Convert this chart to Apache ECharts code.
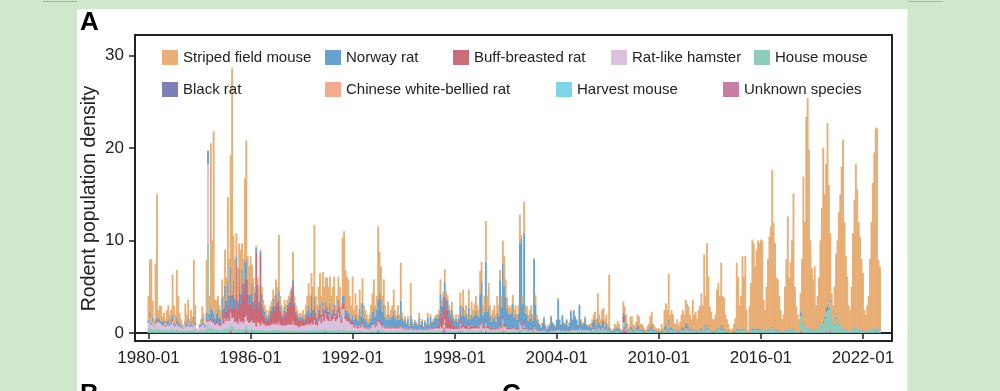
<!DOCTYPE html>
<html><head><meta charset="utf-8">
<script src="https://cdn.jsdelivr.net/npm/echarts@6/dist/echarts.min.js"></script>
<style>html,body{margin:0;padding:0;background:#cfe8cc;}#c{width:1000px;height:391px;}</style>
</head><body><div id="c"></div>
<script>
// Monthly data from 1980-01 (one row per year)
const stripedFieldMouse = [
[2.6,5.6,6.9,1.8,0.7,6.2,13.3,0.9,1.5,1.7,0.5,0.9],
[0.6,1.2,1.6,1.0,0.9,4.3,1.9,1.1,5.1,2.7,1.2,0.7],
[0.3,0.3,1.9,1.0,1.9,0.6,1.3,0.9,6.1,1.9,0.1,0.1],
[0.2,0.5,1.3,0.9,0.2,5.7,0,1.9,17.6,7.5,19.7,2.0],
[1.5,1.4,1.3,1.0,2.0,1.4,3.9,2.5,9.1,4.0,12.0,24.5],
[4.8,4.3,2.5,3.5,2.7,4.8,2.9,2.7,9.0,12.9,2.5,3.1],
[4.1,2.0,2.6,0.6,0.2,0.8,1.6,0.2,0.8,0.9,0.7,0.7],
[0.4,0.5,0.6,0.7,1.0,1.1,1.6,1.6,6.1,1.1,0.8,0.6],
[0.8,0.7,0.5,0.7,0.7,0.2,3.0,0.7,0.7,0.4,0.4,0.4],
[0.4,0.7,0.5,0.9,1.6,2.4,1.8,2.4,2.5,7.8,1.8,1.3],
[2.5,3.4,2.0,3.2,2.5,2.6,3.2,2.7,2.8,1.9,2.5,2.9],
[0.9,1.5,2.5,2.2,1.2,6.3,7.0,4.3,3.7,3.6,2.1,1.5],
[4.1,1.1,2.2,1.4,0.7,2.1,1.4,2.6,1.4,1.0,0.8,0.5],
[0.8,1.4,2.0,3.1,1.2,1.5,7.9,4.4,3.5,1.7,2.7,1.3],
[0.6,1.4,0.6,0.8,1.1,2.3,0.8,0.6,1.1,0.6,4.1,0.6],
[0.3,0.4,0.2,0.3,0.2,3.5,0.3,0.2,0.2,0.2,0.2,0.6],
[0.1,0.2,0.1,0.2,0.1,0.5,0.1,0.3,0.1,0.2,0.2,0.3],
[0.4,0.5,1.6,0.6,0.5,1.4,0.8,0.6,0.5,0.5,0.9,0.4],
[0.2,0.4,0.3,0.4,1.4,1.1,2.0,0.7,0.9,0.5,2.0,0.5],
[1.4,0.8,1.2,1.6,1.1,0.8,2.5,2.1,1.1,1.7,4.4,1.7],
[2.6,1.2,0.8,0.9,1.2,0.8,1.8,1.2,1.1,1.2,2.5,3.2],
[1.9,1.2,0.9,0.7,0.9,0.9,0.8,0.9,0.6,0.9,3.1,0.4],
[0.9,3.4,0.9,0.9,0.7,0.9,0.9,0.7,0.2,1.0,0.6,0.4],
[0.1,0.1,0.1,0.2,0.2,0.1,0.1,0.1,0.1,0.1,0.1,0.1],
[0.1,0.2,0.1,0.1,0.1,0.1,0.1,0.1,0.1,0.1,0.2,0.1],
[0.1,0.1,0.1,0.1,0.1,0.2,0.1,0.1,0.2,0.1,0.1,0.1],
[0.4,0.4,0.6,0.9,0.7,2.7,0.9,0.7,1.2,1.3,0.8,0.9],
[0.5,5.6,0.2,0.1,0.2,0.5,0.3,0.7,0.5,0.2,0.1,1.2],
[0.9,0.9,0.6,0.3,1.1,1.1,0.6,0.5,0.6,1.1,1.0,0.6],
[0.6,0.4,0.3,0.1,0.4,0.6,1.1,1.3,0.6,0.4,0.3,0.3],
[0.3,0.1,0.6,0.3,1.8,2.4,2.0,5.0,1.5,1.8,1.5,0.7],
[0.7,1.1,0.6,0.9,1.4,1.7,1.5,2.5,2.2,2.2,1.5,1.2],
[3.1,1.7,2.0,1.3,2.2,2.4,3.7,2.7,7.6,3.5,8.8,5.5],
[2.6,2.0,1.3,1.3,1.7,4.2,4.8,3.6,6.7,3.5,3.3,1.7],
[1.3,0.9,0.5,0.3,0.4,0.8,1.4,7.1,5.6,2.7,3.7,7.8],
[5.8,7.8,2.4,0.3,2.6,4.5,9.6,9.2,6.9,8.5,9.5,9.2],
[9.7,9.6,3.5,2.0,4.7,7.6,10.0,11.1,16.9,11.5,9.4,5.7],
[5.5,3.7,2.4,1.4,1.9,4.7,7.6,12.1,5.7,7.3,9.6,14.5],
[4.6,2.7,1.8,1.3,2.0,5.8,15.8,11.1,22.8,24.8,19.3,9.6],
[6.6,5.4,6.8,2.7,3.4,4.8,9.1,12.8,18.7,13.2,15.5,19.7],
[13.3,7.2,2.7,1.9,4.1,6.4,8.3,12.0,14.1,17.4,20.3,11.6],
[7.9,5.7,2.8,2.3,4.6,10.2,13.7,17.7,15.0,11.6,10.0,7.6],
[6.2,2.4,1.9,2.8,3.7,7.6,11.5,15.7,19.0,21.3,21.5,7.6],
[6.9]
];
const norwayRat = [
[0.3,0.5,0.2,0.4,0.1,0.3,0.2,0.4,0.3,0.2,0.5,0.2],
[0.2,0.3,0.5,0.2,0.4,0.6,0.3,0.2,0.5,0.4,0.3,0.2],
[0.1,0.1,0.4,0.3,0.5,0.2,0.3,0.2,0.6,0.3,0.1,0],
[0.2,0.3,0.5,0.3,0.2,0.8,1.5,0.6,1.2,1.0,0.8,0.5],
[0.8,1.0,0.6,0.5,1.5,1.0,2.0,1.2,2.5,1.5,3.0,1.5],
[1.5,1.0,1.0,1.0,1.5,1.0,1.5,1.2,2.0,2.0,1.5,1.0],
[1.0,1.0,0.8,0.8,0.5,1.0,0.8,0.5,1.0,0.7,0.6,0.5],
[0.3,0.4,0.5,0.4,0.6,0.5,0.6,0.5,0.8,0.5,0.4,0.3],
[0.4,0.3,0.4,0.4,0.4,0.4,0.5,0.4,0.3,0.3,0.2,0.3],
[0.3,0.4,0.3,0.4,0.5,1.0,0.5,1.5,0.6,1.0,0.5,0.4],
[0.4,0.5,0.3,0.6,0.4,0.5,0.5,0.4,0.5,0.3,0.4,0.5],
[0.3,0.4,0.6,0.5,0.3,0.6,0.8,0.5,0.6,0.5,0.4,0.3],
[0.8,0.6,1.0,0.8,0.6,1.5,1.0,2.0,0.8,0.8,0.6,0.5],
[0.6,0.8,1.2,1.5,1.0,1.5,2.0,3.0,2.5,1.5,2.0,1.0],
[0.8,1.2,0.8,1.0,1.2,1.5,1.0,0.8,1.2,0.8,2.5,1.0],
[0.7,0.8,0.6,0.9,0.5,1.2,0.7,0.5,0.7,0.6,0.5,1.0],
[0.5,0.8,0.4,0.7,0.5,1.0,0.5,1.0,0.6,0.8,0.9,1.0],
[0.8,1.0,2.0,1.2,1.0,1.5,1.2,1.0,0.8,0.8,1.0,0.7],
[0.6,0.8,0.6,0.8,1.5,1.0,1.5,1.0,1.2,0.8,1.5,0.8],
[1.2,1.0,1.2,1.5,1.2,1.0,3.0,4.0,1.2,1.5,6.0,1.5],
[2.0,1.2,0.8,1.0,1.2,0.8,1.5,1.2,4.5,2.0,5.5,4.0],
[3.0,2.0,1.5,1.5,1.5,2.5,1.2,1.5,1.0,1.5,8.0,9.0],
[2.5,9.5,1.5,1.5,1.0,1.2,1.5,1.0,7.0,2.5,1.0,0.8],
[0.6,0.4,0.8,1.2,0.6,0.3,0.5,0.7,1.4,0.8,0.6,0.5],
[1.1,3.2,1.1,0.7,1.5,0.9,0.7,1.1,0.5,0.8,1.9,1.0],
[2.0,1.5,1.0,0.6,2.3,1.0,0.6,0.7,1.2,0.6,0.4,0.5],
[0.4,0.6,0.8,0.8,0.5,0.8,0.6,0.5,0.7,0.8,0.4,0.6],
[0.3,0.4,0.2,0.1,0.2,0.3,0.3,0.2,0.3,0.2,0.1,0.3],
[0.3,0.3,0.2,0.1,0.3,0.3,0.2,0.1,0.2,0.3,0.3,0.2],
[0.2,0.2,0.1,0.1,0.2,0.2,0.3,0.4,0.2,0.2,0.1,0.1],
[0.1,0.1,0.2,0.1,0.3,0.3,0.2,0.4,0.2,0.3,0.2,0.1],
[0.1,0.2,0.1,0.1,0.2,0.2,0.2,0.3,0.3,0.2,0.2,0.1],
[0.2,0.1,0.1,0.1,0.1,0.2,0.2,0.1,0.3,0.2,0.3,0.2],
[0.1,0.1,0.1,0.1,0.1,0.2,0.2,0.1,0.5,0.2,0.2,0.1],
[0.1,0,0,0,0,0.1,0.1,0.2,0.2,0.1,0.1,0.2],
[0.1,0.2,0,0,0.1,0.1,0.2,0.2,0.1,0.2,0.2,0.2],
[0.1,0.1,0,0,0.1,0.1,0.1,0.1,0.2,0.1,0.1,0.1],
[0.1,0.1,0,0,0,0.1,0.1,0.1,0.1,0.1,0.1,0.2],
[0.1,0,0,0,0.3,0.2,0.1,0.1,0.1,0.1,0.1,0.1],
[0.1,0.1,0.1,0,0.1,0.2,0.1,0.1,0.2,0.3,0.3,0.2],
[0.2,0.3,0.1,0.1,0.1,0.2,0.2,0.1,0.1,0.1,0.1,0.1],
[0.1,0.1,0,0,0.1,0.1,0.1,0.1,0.1,0.1,0.1,0.1],
[0.1,0,0,0,0.1,0.1,0.1,0.1,0.1,0.1,0.1,0.1],
[0.1]
];
const buffBreastedRat = [
[0,0.2,0,0.1,0,0,0.3,0,0.1,0,0,0.1],
[0,0,0.1,0,0.2,0.1,0,0,0.2,0.1,0,0],
[0,0,0.1,0,0.2,0,0.1,0,0.2,0,0,0],
[0,0,0.1,0,0,0.2,0,0.2,0.3,0.3,0.2,0.2],
[0.3,0.5,0.3,0.2,0.8,0.6,1.5,1.0,1.5,1.2,2.0,1.0],
[2.5,1.5,6,1.5,4,2,4,3,4,4,3,2],
[2,3,1.5,2.5,8,3,1.5,7.5,2,1,0.8,0.5],
[0.5,0.8,1.0,1.5,2.0,1.5,2.5,2.0,2.5,1.5,1.0,0.8],
[1.5,1.2,1.8,2.0,2.5,3.5,4.0,2.0,1.2,1.0,0.8,0.8],
[0.5,0.6,0.4,0.8,1.0,1.0,0.8,1.5,1.0,1.5,0.8,0.5],
[0.8,1.0,0.6,1.0,0.8,0.8,0.8,0.6,0.8,0.5,0.6,0.8],
[0.5,0.6,0.8,0.6,0.4,0.8,0.6,0.5,0.5,0.4,0.4,0.3],
[0.3,0.2,0.3,0.2,0.2,0.3,0.2,0.4,0.2,0.2,0.1,0.1],
[0.1,0.2,0.2,0.3,0.2,0.2,0.3,0.3,0.3,0.2,0.3,0.2],
[0.1,0.2,0.1,0.2,0.2,0.3,0.2,0.1,0.2,0.1,0.3,0.1],
[0.1,0.1,0.1,0.1,0,0.2,0.1,0,0.1,0.1,0,0.1],
[0.1,0.1,0,0.1,0.1,0.2,0.1,0.2,0.1,0.1,0.2,0.2],
[0.3,0.5,1.5,1.2,2.0,2.5,2.0,2.0,1.2,0.8,1.0,0.5],
[0.3,0.3,0.2,0.3,0.5,0.4,0.5,0.3,0.4,0.3,0.5,0.3],
[0.3,0.2,0.3,0.3,0.2,0.2,0.4,0.5,0.2,0.3,0.6,0.3],
[0.3,0.2,0.1,0.2,0.2,0.1,0.2,0.2,0.5,0.3,0.5,0.4],
[0.3,0.2,0.2,0.1,0.2,0.2,0.1,0.2,0.1,0.2,0.5,0.4],
[0.2,0.4,0.2,0.1,0.1,0.1,0.2,0.1,0.3,0.2,0.1,0.1],
[0.1,0,0.1,0.1,0,0,0,0.1,0.1,0.1,0.1,0],
[0,0.1,0,0,0.1,0,0,0.1,0,0.1,0.1,0.1],
[0.1,0,0.1,0,0.2,0,0,0.1,0.1,0,0,0.1],
[0,0.1,0.2,0.1,0,0.2,0.1,0,0.1,0.1,0,0.1],
[0,0,0,0,0,0,0,0.1,0,0,0,0.8],
[0.5,0.2,0,0,0.1,0.1,0,0,0.1,0.2,0.1,0],
[0,0,0,0,0,0,0.1,0.2,0,0,0,0],
[0,0,0,0,0.1,0.1,0,0.2,0,0.1,0,0],
[0,0,0,0,0.1,0.2,0,0.3,0.2,0.1,0,0],
[0,0,0,0,0,0,0.1,0,0.1,0,0.1,0],
[0,0,0,0,0,0,0,0,0,0,0,0],
[0,0,0,0,0,0,0,0,0,0,0,0],
[0,0,0,0,0,0,0,0,0,0,0,0],
[0,0,0,0,0,0,0,0,0,0,0,0],
[0,0,0,0,0,0,0,0,0,0,0,0],
[0,0,0,0,0.2,0,0,0,0,0,0,0],
[0,0,0,0,0,0,0,0,0.1,0,0.2,0.3],
[0,0,0,0,0,0,0,0,0,0,0,0],
[0,0,0,0,0,0,0,0,0,0,0,0],
[0,0,0,0,0,0,0,0,0,0,0,0],
[0]
];
const ratLikeHamster = [
[0.6,0.8,0.5,0.7,0.4,0.6,0.5,0.8,0.6,0.7,0.4,0.5],
[0.4,0.6,0.5,0.5,0.6,0.7,0.5,0.4,0.6,0.5,0.4,0.3],
[0.3,0.2,0.5,0.4,0.6,0.4,0.5,0.4,0.6,0.5,0.2,0.1],
[0.3,0.4,0.6,0.5,0.3,0.7,8.5,0.8,0.8,0.7,0.6,0.5],
[0.6,0.7,0.5,0.5,0.8,0.6,1.0,0.8,1.0,0.8,1.2,0.8],
[1.0,0.8,0.8,0.6,1.0,0.8,0.8,0.7,1.0,1.0,0.8,0.7],
[0.8,0.8,0.7,0.7,0.4,0.8,0.7,0.5,0.8,0.6,0.6,0.5],
[0.5,0.5,0.6,0.6,0.7,0.6,0.7,0.6,0.8,0.6,0.5,0.5],
[0.6,0.5,0.6,0.6,0.6,0.6,0.7,0.6,0.5,0.5,0.4,0.4],
[0.5,0.5,0.5,0.6,0.6,0.7,0.6,0.7,0.6,0.8,0.6,0.5],
[1.0,1.2,0.8,1.4,1.0,1.5,1.2,1.0,1.6,1.0,1.2,1.5],
[1.0,1.2,1.8,1.4,0.8,2.2,2.0,1.2,1.0,1.0,0.8,0.6],
[0.6,0.4,0.5,0.4,0.3,0.5,0.4,0.6,0.4,0.3,0.3,0.2],
[0.3,0.4,0.6,0.6,0.4,0.5,0.8,0.6,0.6,0.4,0.5,0.3],
[0.3,0.4,0.3,0.3,0.3,0.4,0.3,0.3,0.3,0.3,0.4,0.3],
[0.2,0.3,0.2,0.3,0.2,0.3,0.2,0.2,0.2,0.2,0.2,0.3],
[0.2,0.2,0.2,0.2,0.2,0.3,0.2,0.3,0.2,0.2,0.3,0.3],
[0.3,0.3,0.4,0.3,0.3,0.4,0.3,0.3,0.3,0.2,0.3,0.2],
[0.2,0.3,0.2,0.3,0.4,0.3,0.4,0.3,0.3,0.2,0.4,0.2],
[0.3,0.3,0.3,0.4,0.3,0.3,0.5,0.5,0.3,0.3,0.6,0.3],
[0.3,0.2,0.2,0.2,0.2,0.2,0.3,0.2,0.4,0.3,0.5,0.4],
[0.3,0.2,0.2,0.2,0.2,0.3,0.2,0.2,0.1,0.2,0.5,0.4],
[0.2,0.3,0.2,0.2,0.1,0.1,0.2,0.1,0.3,0.2,0.1,0.1],
[0.1,0.1,0.1,0.1,0.1,0,0.1,0,0.1,0.1,0.1,0.1],
[0.1,0.1,0.1,0.1,0.1,0.1,0.1,0.1,0.1,0.1,0.1,0.1],
[0.1,0.1,0.1,0.1,0.1,0.1,0.1,0.1,0.1,0.1,0.1,0.1],
[0,0.1,0.1,0.1,0,0.1,0.1,0,0.1,0.1,0,0.1],
[0,0,0,0,0,0,0,0,0,0,0,0.1],
[0,0,0,0,0,0,0,0,0,0,0,0],
[0,0,0,0,0,0,0,0,0,0,0,0],
[0,0,0,0,0,0,0,0,0,0,0,0],
[0,0,0,0,0,0,0,0,0,0,0,0],
[0,0,0,0,0,0,0,0,0,0,0,0],
[0,0,0,0,0,0,0,0,0,0,0,0],
[0,0,0,0,0,0,0,0,0,0,0,0],
[0,0,0,0,0,0,0,0,0,0,0,0],
[0,0,0,0,0,0,0,0,0,0,0,0],
[0,0,0,0,0,0,0,0,0,0,0,0],
[0,0,0,0,0,0,0,0,0,0,0,0],
[0,0,0,0,0,0,0,0,0,0,0,0],
[0,0,0,0,0,0,0,0,0,0,0,0],
[0,0,0,0,0,0,0,0,0,0,0,0],
[0,0,0,0,0,0,0,0,0,0,0,0],
[0]
];
const houseMouse = [
[0.5,0.6,0.4,0.5,0.3,0.4,0.5,0.4,0.5,0.3,0.4,0.5],
[0.3,0.4,0.3,0.3,0.4,0.4,0.3,0.3,0.4,0.3,0.3,0.3],
[0.3,0.2,0.3,0.3,0.4,0.3,0.3,0.3,0.4,0.3,0.1,0.1],
[0.3,0.3,0.4,0.3,0.3,0.5,9.7,0.5,0.6,0.5,0.5,0.4],
[0.4,0.4,0.3,0.3,0.5,0.4,0.6,0.5,0.6,0.5,0.7,0.5],
[0.5,0.4,0.5,0.4,0.5,0.4,0.5,0.4,0.5,0.6,0.5,0.4],
[0.4,0.4,0.4,0.4,0.3,0.4,0.4,0.3,0.4,0.4,0.3,0.3],
[0.3,0.3,0.3,0.3,0.4,0.3,0.4,0.3,0.4,0.3,0.3,0.3],
[0.3,0.3,0.3,0.3,0.3,0.3,0.4,0.3,0.3,0.3,0.2,0.3],
[0.3,0.3,0.3,0.3,0.3,0.3,0.3,0.4,0.3,0.4,0.3,0.3],
[0.3,0.4,0.3,0.4,0.3,0.4,0.3,0.3,0.4,0.3,0.3,0.4],
[0.3,0.3,0.4,0.3,0.3,0.4,0.4,0.3,0.3,0.3,0.3,0.3],
[0.3,0.2,0.3,0.2,0.2,0.3,0.2,0.3,0.2,0.2,0.2,0.2],
[0.2,0.2,0.3,0.3,0.2,0.3,0.3,0.3,0.3,0.2,0.3,0.2],
[0.2,0.2,0.2,0.2,0.2,0.2,0.2,0.2,0.2,0.2,0.3,0.2],
[0.2,0.2,0.1,0.2,0.1,0.2,0.2,0.1,0.2,0.1,0.1,0.2],
[0.1,0.2,0.1,0.2,0.1,0.2,0.1,0.2,0.2,0.2,0.2,0.2],
[0.2,0.2,0.3,0.2,0.2,0.3,0.2,0.2,0.2,0.2,0.2,0.2],
[0.2,0.2,0.2,0.2,0.3,0.2,0.3,0.2,0.2,0.2,0.3,0.2],
[0.2,0.2,0.2,0.2,0.2,0.2,0.3,0.3,0.2,0.2,0.3,0.2],
[0.2,0.2,0.1,0.2,0.2,0.1,0.2,0.2,0.3,0.2,0.4,0.3],
[0.3,0.2,0.2,0.2,0.2,0.2,0.2,0.2,0.2,0.2,0.5,0.4],
[0.2,0.4,0.2,0.2,0.1,0.2,0.2,0.1,0.3,0.2,0.2,0.1],
[0.1,0.1,0.1,0.2,0.1,0.1,0.1,0.1,0.2,0.1,0.1,0.1],
[0.2,0.2,0.2,0.1,0.2,0.1,0.1,0.1,0.1,0.1,0.2,0.2],
[0.2,0.2,0.2,0.2,0.2,0.2,0.2,0.2,0.2,0.2,0.2,0.2],
[0.2,0.3,0.3,0.4,0.3,0.5,0.3,0.3,0.4,0.4,0.3,0.3],
[0.2,0.3,0.1,0.1,0.1,0.2,0.2,0.3,0.2,0.1,0.1,0.5],
[0.5,0.4,0.2,0.1,0.3,0.3,0.2,0.2,0.3,0.4,0.4,0.2],
[0.2,0.2,0.1,0.1,0.2,0.2,0.3,0.4,0.2,0.2,0.1,0.1],
[0.1,0.1,0.2,0.1,0.3,0.4,0.3,0.5,0.3,0.3,0.3,0.2],
[0.2,0.2,0.1,0.2,0.3,0.4,0.3,0.5,0.5,0.4,0.3,0.2],
[0.3,0.2,0.2,0.1,0.2,0.3,0.3,0.2,0.5,0.3,0.5,0.4],
[0.2,0.2,0.1,0.1,0.2,0.3,0.4,0.3,0.4,0.3,0.3,0.2],
[0.1,0.1,0,0,0.1,0.1,0.1,0.3,0.3,0.2,0.2,0.3],
[0.2,0.3,0.1,0,0.2,0.8,0.3,0.3,0.2,0.3,0.3,0.3],
[0.3,0.3,0.1,0.5,0.2,0.3,0.3,0.3,0.3,0.3,0.2,0.2],
[0.2,0.2,0.1,0.1,0.1,0.2,0.3,0.4,0.2,0.3,0.3,0.4],
[0.3,0.2,0.2,0.2,1.5,2.0,1.0,0.8,0.5,0.5,0.4,0.3],
[0.3,0.3,0.3,0.3,0.5,1.0,0.8,0.6,1.0,1.5,2.0,2.5],
[2.5,3.0,1.5,1.0,0.8,2.0,1.5,1.0,0.8,0.5,0.5,0.3],
[0.3,0.3,0.2,0.2,0.3,0.5,0.6,0.5,0.4,0.3,0.3,0.3],
[0.2,0.1,0.1,0.2,0.2,0.3,0.4,0.4,0.4,0.4,0.5,0.2],
[0.2]
];
// Small species: [month, value] pairs, all other months are zero
const blackRat = [["1984-11",0.3],["1985-10",0.3],["1986-02",0.2],["1990-06",0.2],["1993-07",0.2],["1999-11",0.2],["2001-11",0.2]];
const chineseWhiteBelliedRat = [["1984-12",0.3],["1985-09",0.2],["1988-07",0.2],["1991-07",0.2],["1997-06",0.2],["2000-11",0.3]];
const harvestMouse = [["1980-02",0.2],["1980-07",0.2],["1981-06",0.2],["1984-05",0.2],["1985-01",0.2],["1989-10",0.2],["1993-08",0.2],["2002-02",0.2],["2005-05",0.2],["2016-09",0.2]];
const unknownSpecies = [["1997-05",0.4],["1997-06",0.6],["1998-05",0.3],["1999-08",0.3],["2000-11",0.3],["2007-12",0.5],["2008-01",0.7],["2008-02",0.2],["2010-08",0.3],["2018-05",0.3],["2019-11",0.3],["2020-02",0.3],["2022-10",0.4]];

const tickLabels = ["1980-01","1986-01","1992-01","1998-01","2004-01","2010-01","2016-01","2022-01"];
const yTicks = [0,10,20,30];
const seriesNames = ["Striped field mouse","Norway rat","Buff-breasted rat","Rat-like hamster","House mouse","Black rat","Chinese white-bellied rat","Harvest mouse","Unknown species"];
const seriesColors = ["#E6A86B","#5B9BCB","#C95F6E","#D9BCDC","#88C7B6","#7373B3","#F2A489","#74D0E8","#C4729B"];

// axis months from 1979-04 to 2023-09
const categories = [];
for (let y = 1979, m = 4; y < 2023 || (y === 2023 && m <= 9); ) {
  categories.push(y + '-' + String(m).padStart(2, '0'));
  m++; if (m > 12) { m = 1; y++; }
}
const idxOf = s => categories.indexOf(s);
const dataStart = idxOf("1980-01");
function fromRows(rows) {
  const flat = [].concat(...rows);
  const out = categories.map(() => null);
  flat.forEach((v, i) => { out[dataStart + i] = v; });
  return out;
}
function fromPairs(pairs) {
  const out = categories.map(() => null);
  pairs.forEach(([s, v]) => { out[idxOf(s)] = v; });
  return out;
}
const seriesData = [
  fromRows(stripedFieldMouse), fromRows(norwayRat), fromRows(buffBreastedRat),
  fromRows(ratLikeHamster), fromRows(houseMouse), fromPairs(blackRat),
  fromPairs(chineseWhiteBelliedRat), fromPairs(harvestMouse), fromPairs(unknownSpecies)
];

const FONT = '"Liberation Sans", Arial, sans-serif';
const chart = echarts.init(document.getElementById('c'), null, { renderer: 'canvas' });

// stack order: last legend entry at the bottom
const order = [8,7,6,5,4,3,2,1,0];
const series = order.map(i => ({
  name: seriesNames[i], type: 'bar', stack: 'all',
  data: seriesData[i], barWidth: 1.9,
  itemStyle: { color: seriesColors[i], opacity: 0.92 },
  emphasis: { disabled: true }, silent: true, large: false
}));

const legendPos = [[162,50],[325,50],[453,50],[611,50],[754,50],[162,82],[325,82],[556,82],[723,82]];
const legends = seriesNames.map((n, i) => ({
  data: [n], left: legendPos[i][0], top: legendPos[i][1], padding: 0,
  itemWidth: 16, itemHeight: 15, icon: 'rect', selectedMode: false,
  textStyle: { fontFamily: FONT, fontSize: 15, color: '#222' }
}));

chart.setOption({
  backgroundColor: '#cfe8cc',
  animation: false,
  color: seriesColors,
  legend: legends,
  grid: { left: 135, top: 35, right: 108, bottom: 50, show: true, borderColor: '#222', borderWidth: 2, backgroundColor: 'transparent' },
  xAxis: {
    type: 'category', data: categories, boundaryGap: true,
    axisLine: { show: true, lineStyle: { color: '#222', width: 2 } },
    axisTick: { show: true, alignWithLabel: true, length: 6, lineStyle: { color: '#222', width: 1.5 },
      interval: (i, v) => tickLabels.includes(v) },
    axisLabel: { show: true, interval: (i, v) => tickLabels.includes(v), color: '#222',
      fontFamily: FONT, fontSize: 17, margin: 9 },
    splitLine: { show: false }
  },
  yAxis: {
    type: 'value', min: -0.86, max: 32.2,
    axisLine: { show: true, lineStyle: { color: '#222', width: 2 } },
    axisTick: { show: true, length: 6, lineStyle: { color: '#222', width: 1.5 }, customValues: yTicks },
    axisLabel: { color: '#222', fontFamily: FONT, fontSize: 17, margin: 11, customValues: yTicks },
    splitLine: { show: false }
  },
  graphic: [
    { type: 'rect', z: -10, silent: true, shape: { x: 77, y: 9, width: 830.5, height: 400 }, style: { fill: '#ffffff' } },
    { type: 'line', silent: true, shape: { x1: 43, y1: 1.5, x2: 77, y2: 1.5 }, style: { stroke: '#a3b9a0', lineWidth: 1 } },
    { type: 'line', silent: true, shape: { x1: 908, y1: 1.5, x2: 943, y2: 1.5 }, style: { stroke: '#a3b9a0', lineWidth: 1 } },
    { type: 'text', silent: true, x: 80, y: 22.5, style: { text: 'A', font: 'bold 26px ' + FONT, fill: '#000', textAlign: 'left', textVerticalAlign: 'middle' } },
    { type: 'text', silent: true, x: 80, y: 394.5, style: { text: 'B', font: 'bold 26px ' + FONT, fill: '#000', textAlign: 'left', textVerticalAlign: 'middle' } },
    { type: 'text', silent: true, x: 502, y: 394.5, style: { text: 'C', font: 'bold 26px ' + FONT, fill: '#000', textAlign: 'left', textVerticalAlign: 'middle' } },
    { type: 'text', silent: true, x: 90, y: 198.5, rotation: Math.PI / 2, style: { text: 'Rodent population density', font: '19.5px ' + FONT, fill: '#222', textAlign: 'center', textVerticalAlign: 'middle' } }
  ],
  series: series
});
</script></body></html>
